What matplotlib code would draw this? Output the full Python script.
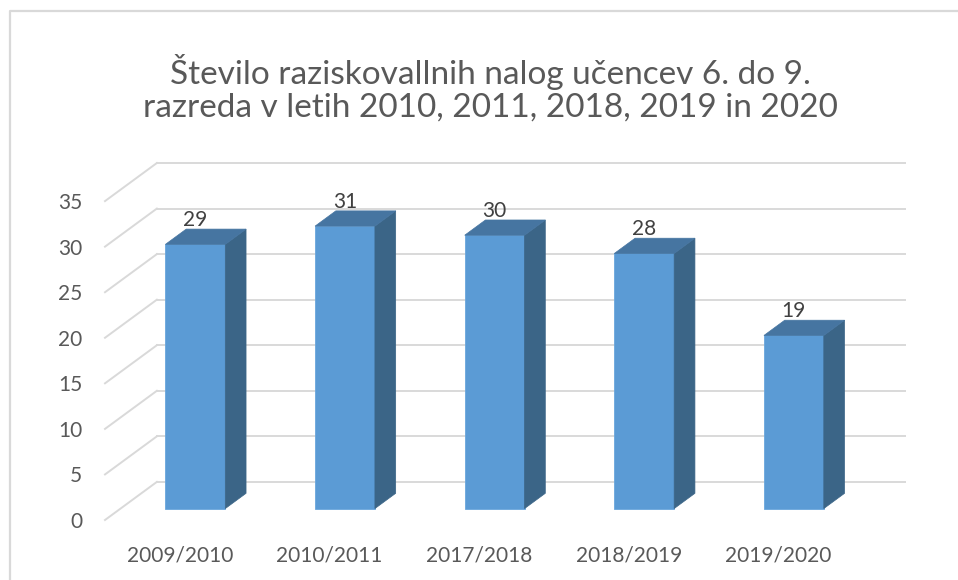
import matplotlib.pyplot as plt
from matplotlib.patches import Polygon
from matplotlib.lines import Line2D

# data
categories = ['2009/2010', '2010/2011', '2017/2018', '2018/2019', '2019/2020']
values = [29, 31, 30, 28, 19]
yticks = [0, 5, 10, 15, 20, 25, 30, 35]
title = 'Število raziskovallnih nalog učencev 6. do 9.\nrazreda v letih 2010, 2011, 2018, 2019 in 2020'

plt.rcParams['font.family'] = ['Lato', 'DejaVu Sans']

# fake 3d depth offsets (in data units)
ddx = 52 / 150
ddy = 38 / 9.086
d0, d1 = 0.3, 0.7   # bar depth range
bw = 0.4

fig = plt.figure(figsize=(9.58, 5.80), dpi=100)
ax = fig.add_axes([105 / 958, 60 / 580, 800 / 958, 357 / 580])
ax.set_xlim(0, len(categories) + ddx)
ax.set_ylim(0, yticks[-1] + ddy)
for s in ax.spines.values():
    s.set_visible(False)

grid_c = '#d9d9d9'
n = len(categories)
for v in yticks:
    ax.plot([0, ddx], [v, v + ddy], color=grid_c, lw=1.4, clip_on=False, zorder=1)
    ax.plot([ddx, n + ddx], [v + ddy, v + ddy], color=grid_c, lw=1.4, clip_on=False, zorder=1)

xs = [i + 0.5 - bw / 2 + d0 * ddx for i in range(n)]
ax.bar(xs, values, width=bw, bottom=d0 * ddy, align='edge', color='#5b9bd5',
       edgecolor='#6aa6dc', linewidth=0.6, zorder=3)

ox = (d1 - d0) * ddx
oy = (d1 - d0) * ddy
for x, v in zip(xs, values):
    y0 = d0 * ddy
    side = Polygon([(x + bw, y0), (x + bw + ox, y0 + oy), (x + bw + ox, y0 + v + oy), (x + bw, y0 + v)],
                   closed=True, facecolor='#3b6587', edgecolor='#3b6587', lw=0.5, zorder=3, clip_on=False)
    top = Polygon([(x, y0 + v), (x + ox, y0 + v + oy), (x + bw + ox, y0 + v + oy), (x + bw, y0 + v)],
                  closed=True, facecolor='#4675a1', edgecolor='#4675a1', lw=0.5, zorder=3, clip_on=False)
    ax.add_patch(side)
    ax.add_patch(top)
    ax.text(x + bw / 2, y0 + v + oy - 0.1, str(v), ha='center', va='bottom',
            fontsize=15, color='#404040', zorder=4)

ax.set_yticks(yticks)
ax.set_yticklabels([str(t) for t in yticks])
ax.set_xticks([i + 0.5 for i in range(n)])
ax.set_xticklabels(categories)
ax.tick_params(axis='y', length=0, pad=16.5, labelsize=15, labelcolor='#595959')
ax.tick_params(axis='x', length=0, pad=18, labelsize=15, labelcolor='#595959')

fig.text(490 / 958, 1 - 88 / 580, title, ha='center', va='center', fontsize=24,
         color='#595959', linespacing=1.12)

# chart border
fig.add_artist(Line2D([10 / 958, 10 / 958, 1], [0, 1 - 11 / 580, 1 - 11 / 580],
                      transform=fig.transFigure, color=grid_c, lw=1.6))

fig.savefig('out.png', dpi=100)
